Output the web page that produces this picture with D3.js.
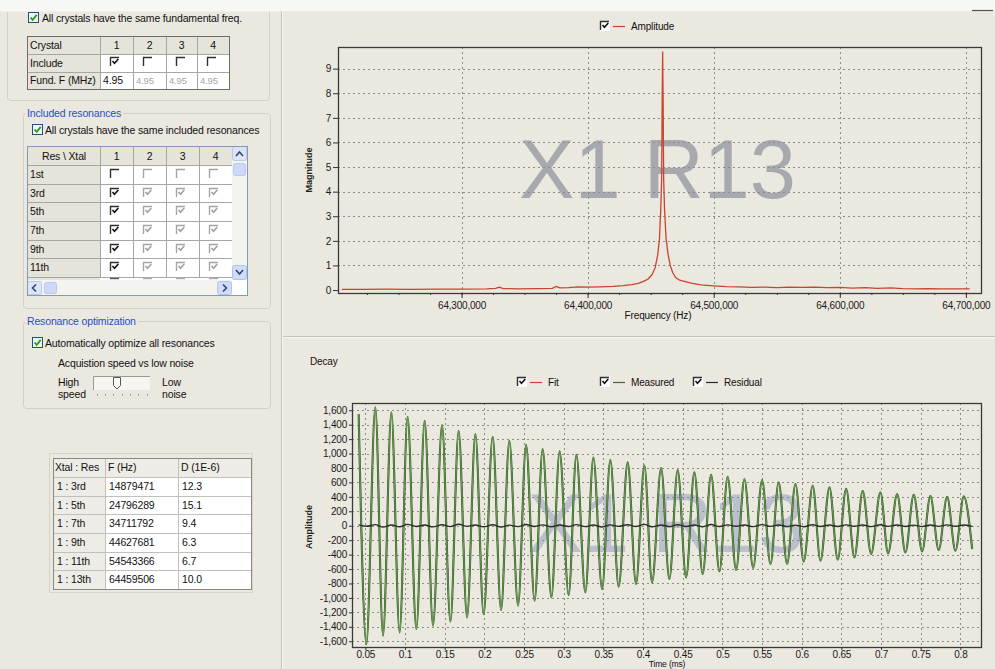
<!DOCTYPE html>
<html><head><meta charset="utf-8">
<script src="https://cdn.jsdelivr.net/npm/d3@7"></script>
<style>
body{margin:0;background:#ebe8e0;overflow:hidden}
svg{display:block}
text{font-family:"Liberation Sans",Arial,sans-serif}
</style></head>
<body><svg id="c" width="995" height="669"></svg>
<script>
// ---------------- DATA ----------------
const crystalCols = ["1","2","3","4"];
const crystalInclude = [true,false,false,false];
const fundF = ["4.95","4.95","4.95","4.95"];
const resRows = ["1st","3rd","5th","7th","9th","11th"];
const resChecked = [
  [false,false,false,false],
  [true,true,true,true],
  [true,true,true,true],
  [true,true,true,true],
  [true,true,true,true],
  [true,true,true,true]
];
const resultHeader = ["Xtal : Res","F (Hz)","D (1E-6)"];
const resultLabels = ["1 : 3rd","1 : 5th","1 : 7th","1 : 9th","1 : 11th","1 : 13th"];
const resultF = ["14879471","24796289","34711792","44627681","54543366","64459506"];
const resultD = ["12.3","15.1","9.4","6.3","6.7","10.0"];

// Amplitude spectrum (Hz, magnitude)
const ampFreq = [64205000,64220000,64240000,64260000,64280000,64300000,64320000,64327000,64330000,64333000,64345000,64360000,64372000,64375000,64378000,64385000,64392000,64400000,64410000,64420000,64428000,64435000,64440000,64444000,64448000,64451000,64453500,64455500,64457000,64458000,64458700,64459100,64459500,64459900,64460300,64461000,64462200,64463800,64465500,64467500,64470000,64473000,64476000,64479000,64483000,64490000,64500000,64510000,64520000,64530000,64540000,64550000,64560000,64570000,64580000,64590000,64600000,64610000,64620000,64630000,64640000,64650000,64660000,64670000,64680000,64690000,64703000];
const ampMag = [0.03,0.03,0.04,0.03,0.04,0.04,0.05,0.07,0.12,0.06,0.05,0.06,0.07,0.15,0.09,0.10,0.13,0.12,0.13,0.15,0.18,0.22,0.27,0.34,0.45,0.62,0.9,1.4,2.1,3.3,4.5,7.5,9.7,7.5,4.5,3.3,2.1,1.45,1.0,0.7,0.5,0.4,0.36,0.32,0.27,0.21,0.17,0.14,0.13,0.11,0.12,0.10,0.12,0.11,0.12,0.10,0.11,0.08,0.10,0.07,0.09,0.06,0.05,0.06,0.05,0.05,0.05];
const magTicks = [0,1,2,3,4,5,6,7,8,9];
const freqTicks = [64300000,64400000,64500000,64600000,64700000];

// Decay (ms, amplitude) read at each extremum of the ringdown
const decayTime = [0.0416,0.0513,0.0626,0.0723,0.0828,0.0932,0.1033,0.1143,0.1248,0.1353,0.1467,0.1572,0.1676,0.1782,0.1887,0.1991,0.2105,0.2211,0.2315,0.2425,0.2526,0.2634,0.2735,0.2845,0.2949,0.3063,0.3160,0.3273,0.3374,0.3484,0.3588,0.3693,0.3807,0.3912,0.4017,0.4114,0.4228,0.4332,0.4437,0.4543,0.4647,0.4752,0.4858,0.4963,0.5067,0.5173,0.5278,0.5388,0.5501,0.5606,0.5710,0.5816,0.5921,0.6025,0.6139,0.6236,0.6350,0.6454,0.6560,0.6665,0.6769,0.6875,0.6992,0.7089,0.7203,0.7307,0.7412,0.7518,0.7622,0.7727,0.7833,0.7938,0.8043,0.8149];
const decayMeasured = [1547,-1640,1639,-1524,1570,-1477,1510,-1431,1454,-1385,1394,-1330,1316,-1270,1270,-1224,1233,-1168,1177,-1108,1122,-1039,1062,-993,1030,-960,983,-923,946,-877,910,-845,877,-808,835,-785,799,-739,771,-716,739,-669,706,-632,679,-614,646,-586,633,-531,600,-531,577,-494,554,-485,531,-471,512,-439,485,-392,462,-383,439,-369,429,-355,410,-337,402,-346,406,-323];
const decayFit = [1540,-1630,1630,-1520,1565,-1470,1505,-1425,1450,-1380,1390,-1325,1312,-1265,1268,-1220,1230,-1165,1175,-1105,1120,-1036,1060,-990,1028,-958,981,-920,944,-875,908,-843,875,-806,833,-783,797,-737,769,-714,737,-667,704,-630,677,-612,644,-584,631,-530,598,-529,575,-492,552,-483,529,-469,510,-437,483,-391,460,-381,437,-367,427,-353,408,-335,400,-344,404,-321];
const decayResidual = [12,-8,15,-20,10,-14,18,-10,9,-16,14,-12,20,-9,11,-15,13,-18,8,-12,16,-10,12,-14,9,-11,15,-13,10,-17,12,-9,14,-11,18,-15,10,-12,13,-10,9,-14,16,-11,12,-8,10,-13,15,-9,11,-12,8,-14,13,-10,9,-11,12,-8,10,-13,14,-9,11,-10,8,-12,10,-9,12,-8,9,-10];
const ampTicks = [-1600,-1400,-1200,-1000,-800,-600,-400,-200,0,200,400,600,800,1000,1200,1400,1600];
const timeTicks = [0.05,0.1,0.15,0.2,0.25,0.3,0.35,0.4,0.45,0.5,0.55,0.6,0.65,0.7,0.75,0.8];
const watermark = "X1 R13";

// ---------------- DRAW ----------------
const svg = d3.select("#c");
const BG = "#ebe8e0";
svg.append("rect").attr("width",995).attr("height",669).attr("fill",BG);
const FONT = 10.5;

function txt(g,x,y,s,opt={}){
  return g.append("text").attr("x",x).attr("y",y).text(s)
    .attr("font-size",opt.size||FONT).attr("fill",opt.fill||"#111")
    .attr("text-anchor",opt.anchor||"start")
    .attr("letter-spacing",opt.ls!==undefined?opt.ls:-0.15)
    .attr("font-weight",opt.weight||"normal");
}
function xpCheck(g,x,y,checked){
  g.append("rect").attr("x",x+0.5).attr("y",y+0.5).attr("width",10).attr("height",10)
    .attr("fill","#f4f3ee").attr("stroke","#1c5180").attr("stroke-width",1);
  if(checked) g.append("path").attr("d",`M${x+2.5},${y+5.5} l2.2,2.4 l4,-5`).attr("fill","none")
    .attr("stroke","#21a121").attr("stroke-width",1.8);
}
function classicCheck(g,x,y,checked,disabled){
  const c = disabled ? "#a5a5a0" : "#303030";
  g.append("path").attr("d",`M${x+0.5},${y+9} V${y+0.5} H${x+9}`).attr("fill","none")
    .attr("stroke",c).attr("stroke-width",1.4);
  if(checked) g.append("path").attr("d",`M${x+2.5},${y+4} l2,2.3 l3.8,-4.3`).attr("fill","none")
    .attr("stroke",disabled?"#a0a0a0":"#111").attr("stroke-width",1.6);
}
function groupBox(g,x,y,w,h,title){
  g.append("rect").attr("x",x+0.5).attr("y",y+0.5).attr("width",w).attr("height",h).attr("rx",3)
    .attr("fill","none").attr("stroke","#d2d0c4").attr("stroke-width",1);
  if(title){
    const t = txt(g,x+4,y+4,title,{fill:"#2350c8"});
    const bb = t.node().getBBox();
    g.insert("rect",function(){return t.node();}).attr("x",bb.x-2).attr("y",y-3).attr("width",bb.width+4).attr("height",7).attr("fill",BG);
  }
}
function cellGrid(g,xs,ys,stroke){
  xs.forEach(x=>g.append("line").attr("x1",x+0.5).attr("x2",x+0.5).attr("y1",ys[0]).attr("y2",ys[ys.length-1]).attr("stroke",stroke));
  ys.forEach(y=>g.append("line").attr("y1",y+0.5).attr("y2",y+0.5).attr("x1",xs[0]).attr("x2",xs[xs.length-1]).attr("stroke",stroke));
}

const ui = svg.append("g");
// Group 1
groupBox(ui,7,-6,262,106,null);
xpCheck(ui,28,12,true);
txt(ui,42,22,"All crystals have the same fundamental freq.");
// Crystal table
{
  const xs=[27,100,133,166,197,229], ys=[36,54,72,89];
  ui.append("rect").attr("x",27).attr("y",36).attr("width",202).attr("height",53).attr("fill","#fff");
  ui.append("rect").attr("x",27).attr("y",36).attr("width",202).attr("height",18).attr("fill","#e6e3da");
  ui.append("rect").attr("x",27).attr("y",36).attr("width",73).attr("height",53).attr("fill","#e6e3da");
  cellGrid(ui,xs,ys,"#a8a6a0");
  ui.append("rect").attr("x",27.5).attr("y",36.5).attr("width",202).attr("height",53).attr("fill","none").attr("stroke","#6f6d68");
  txt(ui,30,49,"Crystal");
  txt(ui,30,67,"Include");
  txt(ui,30,84,"Fund. F (MHz)");
  crystalCols.forEach((c,i)=>{
    const cx=(xs[i+1]+xs[i+2])/2;
    txt(ui,cx,49,c,{anchor:"middle"});
    classicCheck(ui,xs[i+1]+10,57,crystalInclude[i],false);
    txt(ui,xs[i+1]+3,84,fundF[i],{fill:i===0?"#111":"#a8a8a8",size:i===0?FONT:9.5});
  });
}
// Group 2
groupBox(ui,23,113,247,195,"Included resonances");
xpCheck(ui,32,124,true);
txt(ui,45,134,"All crystals have the same included resonances");
{
  const xs=[27,100,133,166,199,232], ys=[146,165,184,202,221,240,258,277];
  ui.append("rect").attr("x",27).attr("y",146).attr("width",220).attr("height",149).attr("fill","#fff");
  ui.append("rect").attr("x",27).attr("y",146).attr("width",205).attr("height",19).attr("fill","#e6e3da");
  ui.append("rect").attr("x",27).attr("y",146).attr("width",73).attr("height",134).attr("fill","#e6e3da");
  cellGrid(ui,xs,ys,"#a8a6a0");
  ui.append("line").attr("x1",27).attr("x2",100).attr("y1",280.5).attr("y2",280.5).attr("stroke","#a8a6a0");
  txt(ui,64,160,"Res \\ Xtal",{anchor:"middle"});
  crystalCols.forEach((c,i)=>txt(ui,(xs[i+1]+xs[i+2])/2,160,c,{anchor:"middle"}));
  resRows.forEach((r,j)=>{
    txt(ui,30,ys[j+1]+13,r);
    resChecked[j].forEach((ch,i)=>classicCheck(ui,xs[i+1]+10,ys[j+1]+4,ch,i>0));
  });
  crystalCols.forEach((c,i)=>ui.append("line").attr("x1",xs[i+1]+10).attr("x2",xs[i+1]+19).attr("y1",278.5).attr("y2",278.5).attr("stroke",i?"#aaa":"#555").attr("stroke-width",1.4));
  // vertical scrollbar
  ui.append("rect").attr("x",232).attr("y",146).attr("width",15).attr("height",134).attr("fill","#f3f3ef");
  ui.append("rect").attr("x",232.5).attr("y",146.5).attr("width",14).attr("height",14).attr("rx",2).attr("fill","#dbe4f8").attr("stroke","#b8c8ee");
  ui.append("path").attr("d","M236,156 l3.5,-4 l3.5,4").attr("fill","none").attr("stroke","#33466e").attr("stroke-width",1.6);
  ui.append("rect").attr("x",233.5).attr("y",163.5).attr("width",12).attr("height",12).attr("rx",2).attr("fill","#cdd9f6").attr("stroke","#b8c8ee");
  ui.append("rect").attr("x",232.5).attr("y",265.5).attr("width",14).attr("height",14).attr("rx",2).attr("fill","#cfdcfa").attr("stroke","#b0c2ee");
  ui.append("path").attr("d","M236,270 l3.5,4 l3.5,-4").attr("fill","none").attr("stroke","#33466e").attr("stroke-width",1.6);
  // horizontal scrollbar
  ui.append("rect").attr("x",27).attr("y",280).attr("width",205).attr("height",15).attr("fill","#f3f3ef");
  ui.append("rect").attr("x",27.5).attr("y",281.5).attr("width",14).attr("height",13).attr("rx",2).attr("fill","#dbe4f8").attr("stroke","#b8c8ee");
  ui.append("path").attr("d","M36,284.5 l-3.5,3.5 l3.5,3.5").attr("fill","none").attr("stroke","#33466e").attr("stroke-width",1.6);
  ui.append("rect").attr("x",44.5).attr("y",282.5).attr("width",12).attr("height",11).attr("rx",2).attr("fill","#cdd9f6").attr("stroke","#b8c8ee");
  ui.append("rect").attr("x",217.5).attr("y",281.5).attr("width",14).attr("height",13).attr("rx",2).attr("fill","#cfdcfa").attr("stroke","#b0c2ee");
  ui.append("path").attr("d","M223,284.5 l3.5,3.5 l-3.5,3.5").attr("fill","none").attr("stroke","#33466e").attr("stroke-width",1.6);
  ui.append("rect").attr("x",27.5).attr("y",146.5).attr("width",220).attr("height",149).attr("fill","none").attr("stroke","#7f9db9");
}
// Group 3
groupBox(ui,23,321,247,87,"Resonance optimization");
xpCheck(ui,32,337,true);
txt(ui,45,347,"Automatically optimize all resonances");
txt(ui,58,367,"Acquistion speed vs low noise");
txt(ui,58,386,"High"); txt(ui,58,398,"speed");
txt(ui,162,386,"Low"); txt(ui,162,398,"noise");
ui.append("rect").attr("x",93).attr("y",376).attr("width",57).attr("height",14).attr("fill","#f6f5f1");
ui.append("path").attr("d","M93.5,390 V376.5 H150").attr("fill","none").attr("stroke","#9a9890");
ui.append("path").attr("d","M113.5,377.5 h7 v8 l-3.5,3.5 l-3.5,-3.5 z").attr("fill","#fbfbf8").attr("stroke","#555").attr("stroke-width",1);
[97,105,113,122,130,138,147].forEach(x=>ui.append("rect").attr("x",x).attr("y",394).attr("width",1).attr("height",1.5).attr("fill","#888"));

// Results table
{
  ui.append("rect").attr("x",49.5).attr("y",453.5).attr("width",203).attr("height",139).attr("fill","none").attr("stroke","#d6d4cc");
  const xs=[53,105,178,251], ys=[458,477,496,514,533,552,570,589];
  ui.append("rect").attr("x",53).attr("y",458).attr("width",198).attr("height",131).attr("fill","#fff");
  ui.append("rect").attr("x",53).attr("y",458).attr("width",198).attr("height",19).attr("fill","#eeece6");
  ui.append("rect").attr("x",53).attr("y",458).attr("width",52).attr("height",131).attr("fill","#eeece6");
  cellGrid(ui,xs,ys,"#c2c0ba");
  ui.append("rect").attr("x",53.5).attr("y",458.5).attr("width",198).attr("height",131).attr("fill","none").attr("stroke","#8a8884");
  txt(ui,55,471,resultHeader[0]); txt(ui,108,471,resultHeader[1]); txt(ui,181,471,resultHeader[2]);
  resultLabels.forEach((l,i)=>{
    const y=ys[i+1]+13;
    txt(ui,57,y,l); txt(ui,109,y,resultF[i]); txt(ui,182,y,resultD[i]);
  });
}

// splitters
svg.append("line").attr("x1",281.5).attr("x2",281.5).attr("y1",0).attr("y2",669).attr("stroke","#c4c1b6");
svg.append("line").attr("x1",282.5).attr("x2",282.5).attr("y1",0).attr("y2",669).attr("stroke","#f8f7f3");
svg.append("line").attr("x1",283).attr("x2",995).attr("y1",336.5).attr("y2",336.5).attr("stroke","#c4c1b6");
svg.append("line").attr("x1",283).attr("x2",995).attr("y1",337.5).attr("y2",337.5).attr("stroke","#f8f7f3");

// ---------- chart helpers ----------
function gridLines(g,xs,ys,xScale,yScale,box){
  ys.forEach(v=>g.append("line").attr("x1",box.x0).attr("x2",box.x1).attr("y1",Math.round(yScale(v))+0.5).attr("y2",Math.round(yScale(v))+0.5)
    .attr("stroke","#8c8c88").attr("stroke-dasharray","2,3"));
  xs.forEach(v=>g.append("line").attr("y1",box.y0).attr("y2",box.y1).attr("x1",Math.round(xScale(v))+0.5).attr("x2",Math.round(xScale(v))+0.5)
    .attr("stroke","#8c8c88").attr("stroke-dasharray","2,3"));
}
function styleAxis(sel){
  sel.select(".domain").remove();
  sel.selectAll("text").attr("font-size",10).attr("fill","#1a1a1a").attr("font-family","Liberation Sans, Arial, sans-serif").attr("letter-spacing",-0.2);
  sel.selectAll("line").attr("stroke","#333");
}
function legendItem(g,x,y,color,label){
  g.append("rect").attr("x",x).attr("y",y-5).attr("width",10).attr("height",10).attr("fill","#fff");
  classicCheck(g,x,y-5,true,false);
  g.append("line").attr("x1",x+13).attr("x2",x+25).attr("y1",y+0.5).attr("y2",y+0.5).attr("stroke",color).attr("stroke-width",1.2);
  txt(g,x+31,y+3.5,label,{size:10});
}

// ---------- TOP CHART ----------
const T = {x0:338,x1:981,y0:47,y1:293};
const xF = d3.scaleLinear().domain([64202000,64712000]).range([T.x0,T.x1]);
const yM = d3.scaleLinear().domain([-0.12,9.88]).range([T.y1,T.y0]);
const gt = svg.append("g");
gt.append("clipPath").attr("id","clipT").append("rect").attr("x",T.x0).attr("y",T.y0).attr("width",T.x1-T.x0).attr("height",T.y1-T.y0);
gt.append("text").attr("x",(T.x0+T.x1)/2-2).attr("y",198).attr("text-anchor","middle").attr("font-size",83)
  .attr("fill","#a8a9ae").attr("clip-path","url(#clipT)").text(watermark);
gridLines(gt,freqTicks,magTicks.slice(1),xF,yM,T);
gt.append("path").datum(ampFreq.map((f,i)=>[f,ampMag[i]]))
  .attr("d",d3.line().x(d=>xF(d[0])).y(d=>yM(d[1])))
  .attr("fill","none").attr("stroke","#c8442c").attr("stroke-width",1.3).attr("clip-path","url(#clipT)");
gt.append("rect").attr("x",T.x0+0.5).attr("y",T.y0+0.5).attr("width",T.x1-T.x0).attr("height",T.y1-T.y0)
  .attr("fill","none").attr("stroke","#3a3a3a").attr("stroke-width",1.3);
gt.append("g").attr("transform",`translate(${T.x0},0)`)
  .call(d3.axisLeft(yM).tickValues(magTicks).tickSize(5).tickPadding(2).tickFormat(d3.format("d"))).call(styleAxis);
gt.append("g").attr("transform",`translate(0,${T.y1})`)
  .call(d3.axisBottom(xF).tickValues(d3.range(64225000,64712000,25000)).tickSize(2).tickFormat("")).call(styleAxis);
gt.append("g").attr("transform",`translate(0,${T.y1})`)
  .call(d3.axisBottom(xF).tickValues(freqTicks).tickSize(5).tickPadding(4).tickFormat(d3.format(","))).call(styleAxis);
txt(gt,658,319,"Frequency (Hz)",{anchor:"middle",size:10});
gt.append("text").attr("transform","translate(312,170) rotate(-90)").attr("text-anchor","middle")
  .attr("font-size",9).attr("font-weight","bold").attr("fill","#222").text("Magnitude");
legendItem(gt,600,26,"#c8442c","Amplitude");

// ---------- BOTTOM CHART ----------
const B = {x0:352,x1:981,y0:403,y1:647};
const xT = d3.scaleLinear().domain([0.0332,0.826]).range([B.x0,B.x1]);
const yA = d3.scaleLinear().domain([-1680,1700]).range([B.y1,B.y0]);
const gb = svg.append("g");
gb.append("clipPath").attr("id","clipB").append("rect").attr("x",B.x0).attr("y",B.y0).attr("width",B.x1-B.x0).attr("height",B.y1-B.y0);
gb.append("text").attr("x",666).attr("y",552).attr("text-anchor","middle").attr("font-size",83)
  .attr("fill","#bcbfcd").attr("clip-path","url(#clipB)").text(watermark);
gridLines(gb,timeTicks,ampTicks,xT,yA,B);
const lineD = d3.line().curve(d3.curveMonotoneX).x(d=>xT(d[0])).y(d=>yA(d[1]));
gb.append("path").datum(decayTime.map((t,i)=>[t,decayFit[i]])).attr("d",lineD)
  .attr("fill","none").attr("stroke","#b8482f").attr("stroke-width",1.2).attr("clip-path","url(#clipB)");
gb.append("path").datum(decayTime.map((t,i)=>[t,decayMeasured[i]])).attr("d",lineD)
  .attr("fill","none").attr("stroke","#365f2c").attr("stroke-width",2.1).attr("clip-path","url(#clipB)");
gb.append("path").datum(decayTime.map((t,i)=>[t,decayMeasured[i]])).attr("d",lineD)
  .attr("fill","none").attr("stroke","#74ad5c").attr("stroke-width",0.8).attr("clip-path","url(#clipB)");
gb.append("path").datum(decayTime.map((t,i)=>[t,decayResidual[i]])).attr("d",lineD)
  .attr("fill","none").attr("stroke","#2b2b2b").attr("stroke-width",1.4).attr("clip-path","url(#clipB)");
gb.append("rect").attr("x",B.x0+0.5).attr("y",B.y0+0.5).attr("width",B.x1-B.x0).attr("height",B.y1-B.y0)
  .attr("fill","none").attr("stroke","#3a3a3a").attr("stroke-width",1.3);
const fmtA = v => d3.format(",")(v).replace("\u2212","-");
gb.append("g").attr("transform",`translate(${B.x0},0)`)
  .call(d3.axisLeft(yA).tickValues(ampTicks).tickSize(3).tickPadding(2).tickFormat(fmtA)).call(styleAxis);
gb.append("g").attr("transform",`translate(0,${B.y1})`)
  .call(d3.axisBottom(xT).tickValues(timeTicks).tickSize(3).tickPadding(1).tickFormat(d=>String(d))).call(styleAxis);
txt(gb,667,667.3,"Time (ms)",{anchor:"middle",size:8.5});
gb.append("text").attr("transform","translate(312,527) rotate(-90)").attr("text-anchor","middle")
  .attr("font-size",9).attr("font-weight","bold").attr("fill","#222").text("Amplitude");
txt(gb,310,365,"Decay",{size:10});
legendItem(gb,517,382,"#c8442c","Fit");
legendItem(gb,600,382,"#3d6b30","Measured");
legendItem(gb,693,382,"#2b2b2b","Residual");

// top white strip
svg.append("rect").attr("x",0).attr("y",0).attr("width",995).attr("height",11).attr("fill","#f7f7f5");
svg.append("rect").attr("x",0).attr("y",11).attr("width",281).attr("height",1).attr("fill","#f1f0ec");
svg.append("line").attr("x1",972).attr("x2",993).attr("y1",10.5).attr("y2",10.5).attr("stroke","#555").attr("stroke-width",1.2);
</script></body></html>
